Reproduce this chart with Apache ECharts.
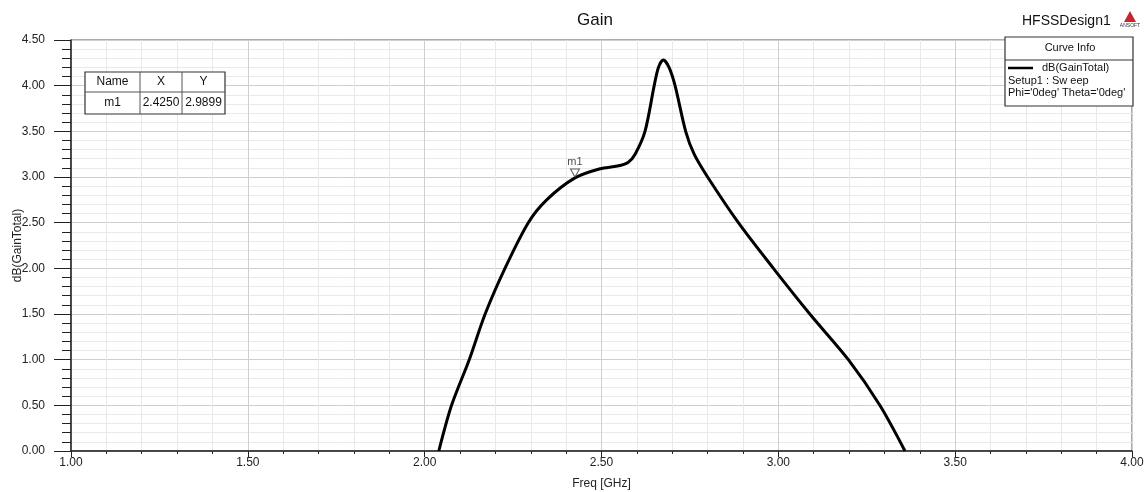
<!DOCTYPE html>
<html>
<head>
<meta charset="utf-8">
<script src="https://cdn.jsdelivr.net/npm/echarts@6/dist/echarts.min.js"></script>
<style>
  html, body { margin: 0; padding: 0; background: #fff; }
  #chart { width: 1146px; height: 492px; }
</style>
</head>
<body>
<div id="chart"></div>
<script>
// frequency (GHz) and gain (dB)
var freq = [2.040, 2.076, 2.126, 2.171, 2.227, 2.293, 2.345, 2.425, 2.496, 2.545,
            2.575, 2.595, 2.623, 2.649, 2.661, 2.675, 2.691, 2.708, 2.738, 2.762,
            2.800, 2.887, 2.986, 3.089, 3.198, 3.287, 3.358];
var gain = [0.00, 0.50, 1.00, 1.50, 2.00, 2.50, 2.75, 2.99, 3.09, 3.12,
            3.16, 3.25, 3.50, 4.00, 4.20, 4.28, 4.20, 4.00, 3.50, 3.25,
            3.00, 2.50, 2.00, 1.50, 1.00, 0.50, 0.00];

var markerName = 'm1';
var markerX = 2.4250;
var markerY = 2.9899;

var tableHead = ['Name', 'X', 'Y'];
var tableRow = [markerName, markerX.toFixed(4), markerY.toFixed(4)];

var legendLines = ['dB(GainTotal)', 'Setup1 : Sw eep', "Phi='0deg' Theta='0deg'"];

var xTicks = { min: 1, max: 4, step: 0.5 };
var yTicks = { min: 0, max: 4.5, step: 0.5 };

var points = freq.map(function (f, i) { return [f, gain[i]]; });

var chart = echarts.init(document.getElementById('chart'));

var font = 'Liberation Sans, Arial, sans-serif';

var option = {
    backgroundColor: '#fff',
    animation: false,
    textStyle: { fontFamily: font },
    title: {
        text: 'Gain',
        left: 590,
        top: 7,
        textAlign: 'center',
        textStyle: { fontSize: 17, fontWeight: 'normal', color: '#111', fontFamily: font }
    },
    grid: {
        left: 71,
        right: 14,
        top: 40,
        bottom: 41,
        containLabel: false,
        outerBoundsMode: 'none',
        show: true,
        borderColor: '#555',
        borderWidth: 1
    },
    xAxis: {
        type: 'value',
        min: xTicks.min,
        max: xTicks.max,
        interval: xTicks.step,
        name: 'Freq [GHz]',
        nameLocation: 'middle',
        nameGap: 27,
        nameTextStyle: { fontSize: 12, color: '#222', fontFamily: font },
        axisLine: { lineStyle: { color: '#222', width: 1.5 } },
        axisTick: { show: true, length: 6, inside: false, lineStyle: { color: '#222' } },
        minorTick: { show: true, splitNumber: 5, length: 3, lineStyle: { color: '#222' } },
        axisLabel: {
            fontSize: 12, color: '#222', margin: 6,
            formatter: function (v) { return v.toFixed(2); }
        },
        splitLine: { show: true, lineStyle: { color: '#cfcfcf', width: 1 } },
        minorSplitLine: { show: true, lineStyle: { color: '#e9e9e9', width: 1 } }
    },
    yAxis: {
        type: 'value',
        min: yTicks.min,
        max: yTicks.max,
        interval: yTicks.step,
        name: 'dB(GainTotal)',
        nameLocation: 'middle',
        nameGap: 47,
        nameMoveOverlap: false,
        nameTextStyle: { fontSize: 12, color: '#222', fontFamily: font },
        axisLine: { show: true, lineStyle: { color: '#222', width: 1.5 } },
        axisTick: { show: true, length: 17, lineStyle: { color: '#222' } },
        minorTick: { show: true, splitNumber: 5, length: 9, lineStyle: { color: '#222' } },
        axisLabel: {
            fontSize: 12, color: '#222', margin: 26,
            formatter: function (v) { return v.toFixed(2); }
        },
        splitLine: { show: true, lineStyle: { color: '#cfcfcf', width: 1 } },
        minorSplitLine: { show: true, lineStyle: { color: '#e9e9e9', width: 1 } }
    },
    series: [{
        name: 'dB(GainTotal)',
        type: 'line',
        data: points,
        smooth: 0.3,
        showSymbol: false,
        lineStyle: { color: '#000', width: 3 }
    }, {
        name: markerName,
        type: 'scatter',
        data: [[markerX, markerY]],
        symbol: 'triangle',
        symbolRotate: 180,
        symbolSize: [9, 8],
        symbolOffset: [0, -5],
        itemStyle: { color: '#fff', borderColor: '#333', borderWidth: 1 },
        label: {
            show: true,
            position: 'top',
            distance: 1,
            formatter: markerName,
            fontSize: 11,
            color: '#222'
        },
        z: 5
    }],
    graphic: []
};

// marker table, top left
var tbl = { x: 85, y: 72, w: 140, h: 42, cols: [85, 140, 182, 225] };
var g = option.graphic;
g.push({ type: 'rect', shape: { x: tbl.x, y: tbl.y, width: tbl.w, height: tbl.h },
         style: { fill: '#fff', stroke: '#333', lineWidth: 1.2 }, z: 10 });
g.push({ type: 'line', shape: { x1: tbl.x, y1: tbl.y + 20, x2: tbl.x + tbl.w, y2: tbl.y + 20 },
         style: { stroke: '#555', lineWidth: 1 }, z: 11 });
[1, 2].forEach(function (c) {
    g.push({ type: 'line', shape: { x1: tbl.cols[c], y1: tbl.y, x2: tbl.cols[c], y2: tbl.y + tbl.h },
             style: { stroke: '#555', lineWidth: 1 }, z: 11 });
});
[tableHead, tableRow].forEach(function (row, r) {
    row.forEach(function (t, c) {
        g.push({ type: 'text', x: (tbl.cols[c] + tbl.cols[c + 1]) / 2, y: tbl.y + 10 + r * 21,
                 style: { text: t, fontSize: 12, fontFamily: font, fill: '#111',
                          textAlign: 'center', textVerticalAlign: 'middle' }, z: 12 });
    });
});

// curve info box, top right
var lb = { x: 1005, y: 37, w: 128, h: 69 };
g.push({ type: 'rect', shape: { x: lb.x, y: lb.y, width: lb.w, height: lb.h },
         style: { fill: '#fff', stroke: '#333', lineWidth: 1.2 }, z: 10 });
g.push({ type: 'line', shape: { x1: lb.x, y1: lb.y + 23, x2: lb.x + lb.w, y2: lb.y + 23 },
         style: { stroke: '#333', lineWidth: 1 }, z: 11 });
g.push({ type: 'text', x: lb.x + 65, y: lb.y + 11,
         style: { text: 'Curve Info', fontSize: 11, fontFamily: font, fill: '#111',
                  textAlign: 'center', textVerticalAlign: 'middle' }, z: 12 });
g.push({ type: 'line', shape: { x1: lb.x + 3, y1: lb.y + 31, x2: lb.x + 28, y2: lb.y + 31 },
         style: { stroke: '#000', lineWidth: 2.5 }, z: 11 });
g.push({ type: 'text', x: lb.x + 37, y: lb.y + 31,
         style: { text: legendLines[0], fontSize: 11, fontFamily: font, fill: '#111',
                  textVerticalAlign: 'middle' }, z: 12 });
g.push({ type: 'text', x: lb.x + 3, y: lb.y + 44,
         style: { text: legendLines[1], fontSize: 11, fontFamily: font, fill: '#111',
                  textVerticalAlign: 'middle' }, z: 12 });
g.push({ type: 'text', x: lb.x + 3, y: lb.y + 56,
         style: { text: legendLines[2], fontSize: 11, fontFamily: font, fill: '#111',
                  textVerticalAlign: 'middle' }, z: 12 });

// design name and logo
g.push({ type: 'text', x: 1022, y: 21,
         style: { text: 'HFSSDesign1', fontSize: 14, fontFamily: font, fill: '#111',
                  textVerticalAlign: 'middle' }, z: 12 });
g.push({ type: 'polygon', shape: { points: [[1130, 11], [1124, 22], [1136, 22]] },
         style: { fill: '#c8262c' }, z: 12 });
g.push({ type: 'text', x: 1130, y: 26,
         style: { text: 'ANSOFT', fontSize: 5, fontFamily: font, fill: '#333',
                  textAlign: 'center', textVerticalAlign: 'middle' }, z: 12 });

chart.setOption(option);
</script>
</body>
</html>
